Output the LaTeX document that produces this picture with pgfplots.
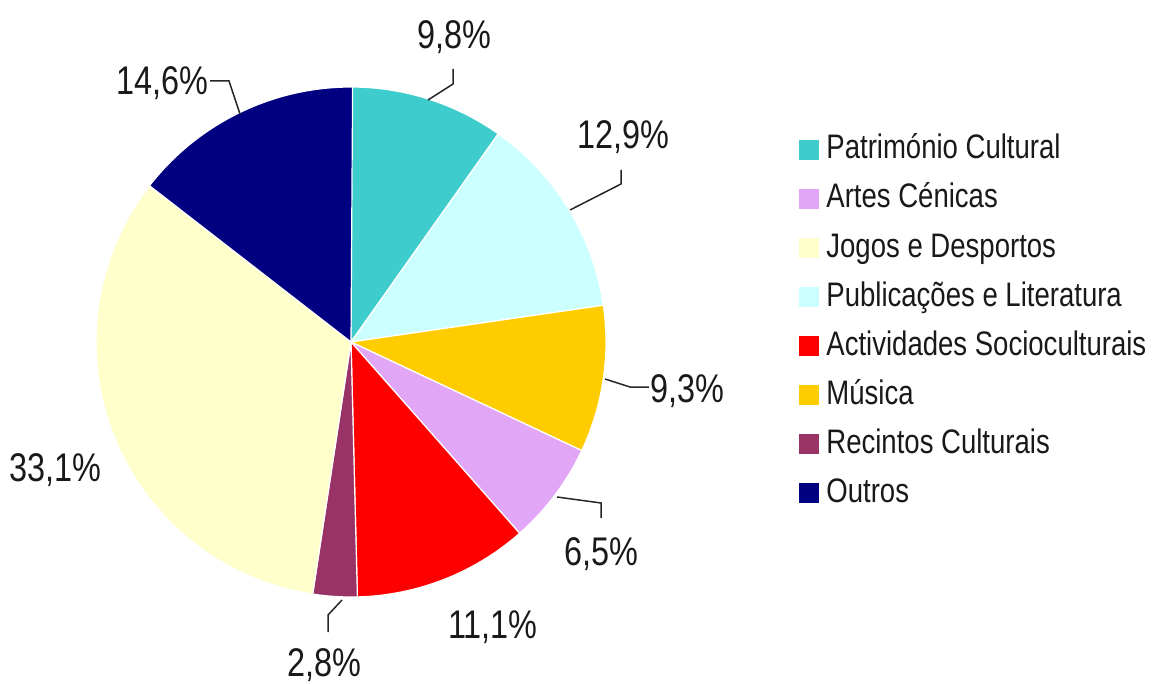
\documentclass[border=0pt]{standalone}
\usepackage{fontspec}
\setmainfont{Liberation Sans}[FakeStretch=0.81]
\usepackage{pgfplots}
\usepackage{pgfplotstable}
\pgfplotsset{compat=1.18}
\pgfkeys{/pgf/number format/assume math mode=true}

\definecolor{patr}{HTML}{3ECCCC}
\definecolor{publ}{HTML}{CCFFFF}
\definecolor{musi}{HTML}{FFCC00}
\definecolor{artes}{HTML}{E2A6F7}
\definecolor{activ}{HTML}{FF0000}
\definecolor{recin}{HTML}{993366}
\definecolor{jogos}{HTML}{FFFFCC}
\definecolor{outros}{HTML}{000080}

\newcommand\labfnt{\fontsize{20}{24}\selectfont}
\newcommand\legfnt{\fontsize{17}{20}\selectfont}

% slices clockwise from 12 o'clock; label x and baseline y in image px
\pgfplotstableread{
col    value lx  ly
patr   9.8   454 49
publ   12.9  623 149
musi   9.3   687 402
artes  6.5   601 565
activ  11.1  493 638
recin  2.8   324 676
jogos  33.1  55  481
outros 14.6  162 95
}\slices

\pgfplotstableread[col sep=comma]{
col,name
patr,Património Cultural
artes,Artes Cénicas
jogos,Jogos e Desportos
publ,Publicações e Literatura
activ,Actividades Socioculturais
musi,Música
recin,Recintos Culturais
outros,Outros
}\legtab

\begin{document}
\begin{tikzpicture}
\begin{axis}[
  scale only axis, width=577.5pt, height=342pt,
  xmin=0, xmax=1155, ymin=0, ymax=684, y dir=reverse,
  hide axis, clip=false
]
\pgfplotsextra{
  \xdef\angA{90}
  \foreach \i in {0,...,7}{
    \pgfplotstablegetelem{\i}{col}\of\slices \let\c\pgfplotsretval
    \pgfplotstablegetelem{\i}{value}\of\slices \let\v\pgfplotsretval
    \pgfmathsetmacro\angB{\angA-3.6*\v}
    \fill[\c, draw=white, line width=0.6pt, line join=round]
      (axis cs:351,342) -- (axis cs:{351+255*cos(\angA)},{342-255*sin(\angA)})
      arc[start angle=\angA, end angle=\angB, radius=127.5pt] -- cycle;
    \xdef\angA{\angB}
  }
  \foreach \i in {0,...,7}{
    \pgfplotstablegetelem{\i}{value}\of\slices \let\v\pgfplotsretval
    \pgfplotstablegetelem{\i}{lx}\of\slices \let\lx\pgfplotsretval
    \pgfplotstablegetelem{\i}{ly}\of\slices \let\ly\pgfplotsretval
    \node[anchor=base, inner sep=0pt, font=\labfnt, text=black!90]
      at (axis cs:\lx,\ly)
      {\pgfmathprintnumber[fixed, fixed zerofill, precision=1, use comma]{\v}\%};
  }
  % leader lines
  \begin{scope}[draw=black!85, line width=0.75pt]
    \draw (axis cs:453,69) -- (axis cs:453,84) -- (axis cs:428,100);
    \draw (axis cs:621,170) -- (axis cs:621,184) -- (axis cs:570,210);
    \draw (axis cs:605,379) -- (axis cs:630,387) -- (axis cs:649,387);
    \draw (axis cs:557,497) -- (axis cs:601,503) -- (axis cs:601,518);
    \draw (axis cs:342,600) -- (axis cs:328,615) -- (axis cs:328,632);
    \draw (axis cs:210,81) -- (axis cs:229,81) -- (axis cs:240,114);
  \end{scope}
  % legend
  \foreach \i in {0,...,7}{
    \pgfplotstablegetelem{\i}{col}\of\legtab \let\c\pgfplotsretval
    \pgfplotstablegetelem{\i}{name}\of\legtab \let\n\pgfplotsretval
    \pgfmathsetmacro\yc{150+49*\i}
    \fill[\c] (axis cs:799,{\yc-10}) rectangle (axis cs:819,{\yc+10});
    \node[anchor=base west, inner sep=0pt, font=\legfnt, text=black!90]
      at (axis cs:826,{\yc+9}) {\n};
  }
}
\end{axis}
\pgfresetboundingbox
\path (current axis.south west) rectangle (current axis.north east);
\end{tikzpicture}
\end{document}
